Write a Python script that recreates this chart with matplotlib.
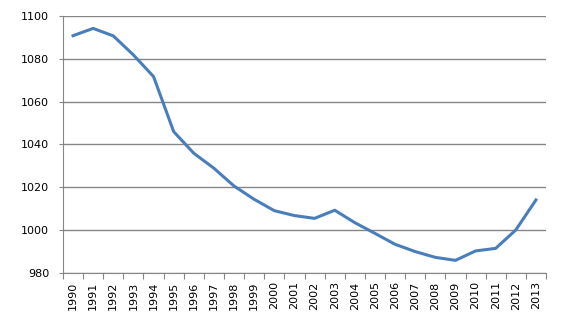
import matplotlib.pyplot as plt
import numpy as np

years = [str(y) for y in range(1990, 2014)]
values = [1090.8, 1094.2, 1090.7, 1081.8, 1071.7, 1046.0, 1035.9, 1028.9,
          1020.6, 1014.4, 1009.1, 1006.8, 1005.5, 1009.3, 1003.5, 998.5,
          993.4, 990.0, 987.3, 985.9, 990.3, 991.5, 1000.1, 1014.1]
y_ticks = [980, 1000, 1020, 1040, 1060, 1080, 1100]

fig = plt.figure(figsize=(5.8, 3.26), dpi=100)
ax = fig.add_axes([0.1086, 0.1626, 0.8328, 0.7884])

x = np.arange(len(years))
ax.plot(x, values, color="#4A7EBB", linewidth=2.2, solid_joinstyle="round")

ax.set_xlim(-0.5, len(years) - 0.5)
ax.set_ylim(980, 1100)
ax.set_yticks(y_ticks)
ax.set_yticklabels([str(v) for v in y_ticks], fontsize=8)
ax.yaxis.grid(True, color="#868686", linewidth=1)
ax.set_axisbelow(True)

ax.set_xticks(np.arange(len(years) + 1) - 0.5)
ax.set_xticklabels([])
ax.set_xticks(x, minor=True)
ax.set_xticklabels(years, minor=True, rotation=90, fontsize=8)
ax.tick_params(axis="x", which="major", length=4, color="#868686")
ax.tick_params(axis="x", which="minor", length=0, pad=6)
ax.tick_params(axis="y", length=3, color="#868686", pad=7)

for side in ["top", "right"]:
    ax.spines[side].set_visible(False)
for side in ["left", "bottom"]:
    ax.spines[side].set_color("#868686")

fig.savefig("out.png", dpi=100)
